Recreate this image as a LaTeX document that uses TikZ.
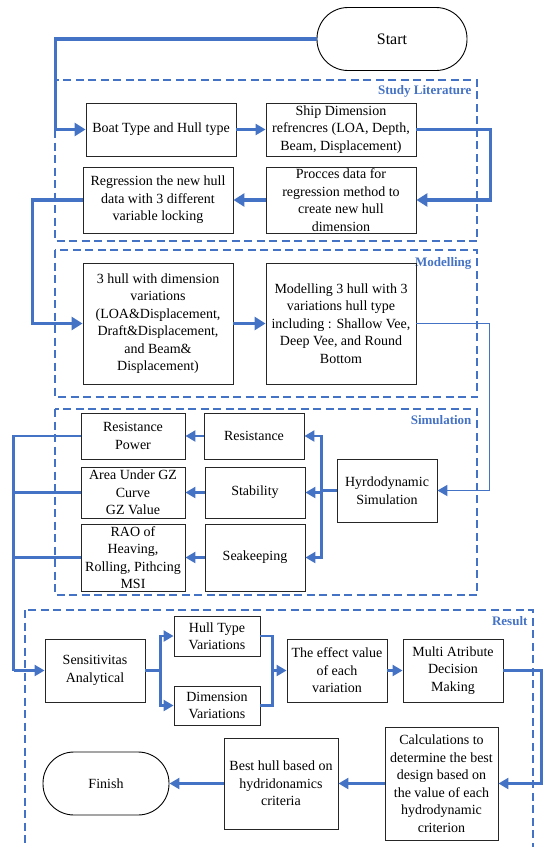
\documentclass[tikz,border=0pt]{standalone}
\usepackage{fontspec}
\setmainfont{Liberation Serif}
\definecolor{flowblue}{HTML}{4472C4}
\usetikzlibrary{arrows.meta, calc}

\begin{document}
\begin{tikzpicture}[x=1pt, y=-1pt,
  every node/.style={font=\fontsize{14}{17.5}\selectfont, align=center},
  box/.style={draw=black!85, line width=0.9pt, inner sep=1pt,
              minimum width=100pt, minimum height=63pt},
  term/.style={draw=black, line width=0.9pt, rounded corners=31pt, minimum height=63pt},
  group/.style={draw=flowblue, dash pattern=on 8pt off 4.5pt, line width=1.2pt},
  grouplabel/.style={anchor=east, text=flowblue, font=\fontsize{13}{14}\selectfont\bfseries},
  flow/.style={draw=flowblue, line width=2.3pt, -{Triangle[length=10pt, width=11pt]}},
  flowbold/.style={flow, line width=3.4pt, -{Triangle[length=11pt, width=13pt]}},
  link/.style={draw=flowblue, line width=2.3pt},
]
  \clip (0,0) rectangle (543,847);

  % Groups
  \draw[group] (55,80) rectangle (477,241);
  \node[grouplabel] (lstudy) at (475,91) {Study Literature};
  \draw[group] (55,250) rectangle (477,397);
  \node[grouplabel] (lmodel) at (475,263) {Modelling};
  \draw[group] (55,409) rectangle (477,595);
  \node[grouplabel] (lsim) at (475,420) {Simulation};
  \draw[group] (25,610) rectangle (533,870);
  \node[grouplabel] (lres) at (531,621) {Result};

  % Start
  \node[term, minimum width=150pt, font=\fontsize{16}{19}\selectfont] (start) at (392,39) {Start};

  % Study Literature
  \node[box, minimum width=150pt, minimum height=53pt] (boat) at (161,129.5) {Boat Type and Hull type};
  \node[box, minimum width=150pt, minimum height=53pt] (ship) at (341,129.5) {Ship Dimension\\refrencres (LOA, Depth,\\Beam, Displacement)};
  \node[box, minimum width=150pt, minimum height=66pt] (regr) at (158,200) {Regression the new hull\\data with 3 different\\variable locking};
  \node[box, minimum width=150pt, minimum height=66pt] (proc) at (341,200) {Procces data for\\regression method to\\create new hull\\dimension};

  % Modelling
  \node[box, minimum width=150pt, minimum height=121pt] (hull3) at (158,323.5) {3 hull with dimension\\variations\\(LOA\&Displacement,\\Draft\&Displacement,\\and Beam\&\\Displacement)};
  \node[box, minimum width=150pt, minimum height=121pt] (mod3) at (341,323.5) {Modelling 3 hull with 3\\variations hull type\\including : Shallow Vee,\\Deep Vee, and Round\\Bottom};

  % Simulation
  \node[box, minimum width=104pt, minimum height=46pt] (respow) at (133,436) {Resistance\\Power};
  \node[box, minimum height=46pt] (res) at (254,436) {Resistance};
  \node[box, minimum width=104pt, minimum height=51pt] (area) at (133,492.5) {Area Under GZ\\Curve\\GZ Value};
  \node[box, minimum height=51pt] (stab) at (255,492.5) {Stability};
  \node[box, minimum width=104pt, minimum height=67pt] (rao) at (133,557.5) {RAO of\\Heaving,\\Rolling, Pithcing\\MSI};
  \node[box, minimum height=67pt] (seak) at (255,557.5) {Seakeeping};
  \node[box] (hydro) at (387,490.5) {Hyrdodynamic\\Simulation};

  % Result
  \node[box] (sens) at (95,670.5) {Sensitivitas\\Analytical};
  \node[box, minimum width=86pt, minimum height=40pt] (hullv) at (217,636) {Hull Type\\Variations};
  \node[box, minimum width=86pt, minimum height=39pt] (dimv) at (217,705.5) {Dimension\\Variations};
  \node[box] (effect) at (337,670.5) {The effect value\\of each\\variation};
  \node[box] (madm) at (453,670.5) {Multi Atribute\\Decision\\Making};
  \node[box, minimum width=113pt, minimum height=113pt] (calc) at (441.5,783.5) {Calculations to\\determine the best\\design based on\\the value of each\\hydrodynamic\\criterion};
  \node[box, minimum width=114pt, minimum height=91pt] (best) at (281,783.5) {Best hull based on\\hydridonamics\\criteria};
  \node[term, minimum width=126pt] (finish) at (106,783.5) {Finish};

  % Arrows
  \draw[flowbold] (start.west) -| ([xshift=-30pt]boat.west) -- (boat.west);
  \draw[flow] (boat) -- (ship);
  \draw[flowbold] (ship.east) -- ++(74,0) |- (proc.east);
  \draw[flowbold] (proc) -- (regr);
  \draw[flowbold] (regr.west) -- ++(-50,0) |- (hull3.west);
  \draw[flowbold] (hull3) -- (mod3);
  \draw[flow, line width=1.8pt] (mod3.east) -- ++(73,0) |- (hydro.east);

  \draw[link] (hydro.west) -- ++(-15,0) coordinate (hj);
  \draw[flow] (hj) |- (res.east);
  \draw[flow] (hj) |- (stab.east);
  \draw[flow] (hj) |- (seak.east);
  \draw[flow] (res) -- (respow);
  \draw[flow] (stab) -- (area);
  \draw[flow] (seak) -- (rao);

  \coordinate (bus) at ([xshift=-31pt]sens.west);
  \draw[link] (respow.west) -| (bus);
  \draw[link] (area.west) -- (area.west -| bus);
  \draw[link] (rao.west) -- (rao.west -| bus);
  \draw[flow] (bus) -- (sens.west);

  \draw[link] (sens.east) -- ++(15,0) coordinate (sj);
  \draw[flow] (sj) |- (hullv.west);
  \draw[flow] (sj) |- (dimv.west);
  \coordinate (ej) at ([xshift=-14pt]effect.west);
  \draw[link] (hullv.east) -| (ej);
  \draw[link] (dimv.east) -| (ej);
  \draw[flow] (ej) -- (effect.west);
  \draw[flow] (effect) -- (madm);
  \draw[flow] (madm.east) -- ++(38,0) |- (calc.east);
  \draw[flow] (calc) -- (best);
  \draw[flow] (best) -- (finish);
\end{tikzpicture}
\end{document}
